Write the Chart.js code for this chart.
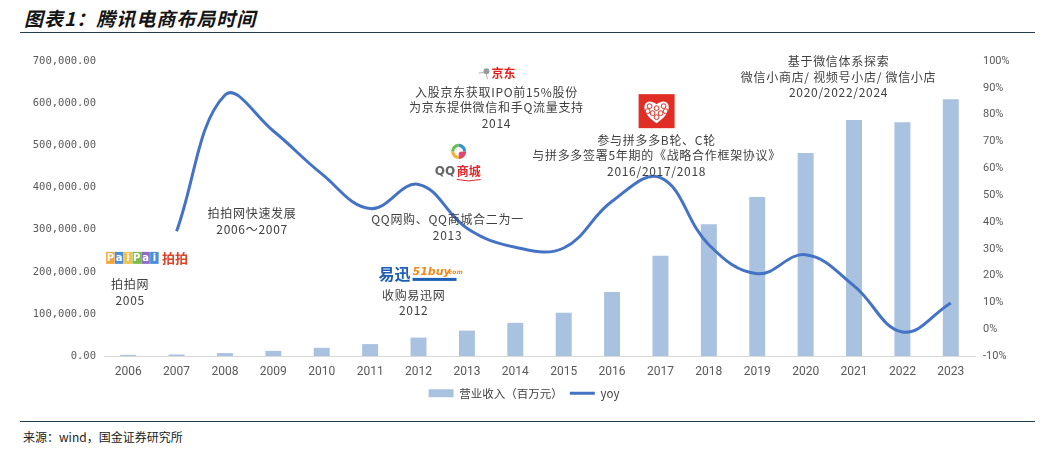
<!DOCTYPE html>
<html>
<head>
<meta charset="utf-8">
<script src="https://cdn.jsdelivr.net/npm/chart.js@4"></script>
<style>
  html, body { margin:0; padding:0; background:#fff; }
  body { width:1048px; height:460px; position:relative; overflow:hidden; font-family:"Noto Sans CJK SC", sans-serif; }
  #title { position:absolute; left:24px; top:4px; font-size:19px; font-weight:bold; font-style:italic; color:#151515; letter-spacing:1px; }
  #tline { position:absolute; left:20px; width:1015px; top:32px; height:0; border-top:1.5px solid #243f4d; }
  #fline { position:absolute; left:20px; width:1015px; top:421px; height:0; border-top:1.5px solid #243f4d; }
  #source { position:absolute; left:23px; top:428px; font-size:12px; color:#222; }
  #wrap { position:absolute; left:0; top:0; width:1048px; height:409px; }
</style>
</head>
<body>
<div id="title">图表1：腾讯电商布局时间</div>
<div id="tline"></div>
<div id="wrap"><canvas id="c"></canvas></div>
<div id="fline"></div>
<div id="source">来源：wind，国金证券研究所</div>
<script>
// ---- data ----
const years = ['2006','2007','2008','2009','2010','2011','2012','2013','2014','2015','2016','2017','2018','2019','2020','2021','2022','2023'];
const revenue = [2800, 3821, 7155, 12440, 19646, 28496, 43894, 60437, 78932, 102863, 151938, 237760, 312694, 377289, 482064, 560118, 554552, 609015];
const yoy = [null, 36.5, 87.3, 73.9, 57.9, 45.0, 54.0, 37.7, 30.6, 30.3, 47.7, 56.5, 31.5, 20.7, 27.8, 16.2, -1.0, 9.8];
const seriesNames = ['营业收入（百万元）', 'yoy'];
const leftTicks = { min: 0, max: 700000, step: 100000 };
const rightTicks = { min: -10, max: 100, step: 10 };

// annotation texts (anchored at category index / left-axis value)
const notes = [
  { at: [0.04, 169000], lines: ['拍拍网', '2005'] },
  { at: [2.56, 338000], lines: ['拍拍网快速发展', '2006～2007'] },
  { at: [6.6, 324000], lines: ['QQ网购、QQ商城合二为一', '2013'] },
  { at: [5.9, 145000], lines: ['收购易迅网', '2012'] },
  { at: [7.61, 626000], lines: ['入股京东获取IPO前15%股份', '为京东提供微信和手Q流量支持', '2014'] },
  { at: [10.92, 512000], lines: ['参与拼多多B轮、C轮', '与拼多多签署5年期的《战略合作框架协议》', '2016/2017/2018'] },
  { at: [14.68, 698000], lines: ['基于微信体系探索', '微信小商店/ 视频号小店/ 微信小店', '2020/2022/2024'] }
];
const logos = [
  { kind: 'paipai', at: [0.04, 233000] },
  { kind: 'qqmall', at: [6.83, 438000] },
  { kind: 'yixun', at: [6.0, 195000] },
  { kind: 'jd', at: [7.61, 671000] },
  { kind: 'pdd', at: [10.92, 581000] }
];

const barColor = '#A8C2E0';
const lineColor = '#4472C4';
const tickColor = '#595959';

function drawLogo(ctx, kind, x, y) {
  ctx.save();
  ctx.textBaseline = 'middle';
  if (kind === 'paipai') {
    const letters = ['P','a','i','P','a','i'];
    const cols = ['#F2A33A','#4A90D9','#F2C14E','#7DBE4A','#8E6CC2','#4A90D9'];
    let sx = x - 24;
    ctx.font = 'bold 10px "DejaVu Sans"';
    ctx.textAlign = 'center';
    letters.forEach((l, i) => {
      ctx.fillStyle = cols[i];
      ctx.fillRect(sx, y - 6, 8.5, 12);
      ctx.fillStyle = '#fff';
      ctx.fillText(l, sx + 4.25, y + 0.5);
      sx += 8.8;
    });
    ctx.fillStyle = '#D9452B';
    ctx.font = 'bold 13px "Noto Sans CJK SC"';
    ctx.textAlign = 'left';
    ctx.fillText('拍拍', sx + 3, y);
  } else if (kind === 'qqmall') {
    const cy = y - 20;
    const ringCols = ['#E84C3D','#F5B335','#6BBF4E','#3B8FD9'];
    for (let i = 0; i < 4; i++) {
      ctx.beginPath();
      ctx.strokeStyle = ringCols[i];
      ctx.lineWidth = 3.2;
      ctx.arc(x, cy, 6, i * Math.PI / 2, (i + 1) * Math.PI / 2);
      ctx.stroke();
    }
    ctx.fillStyle = '#E3447A';
    ctx.beginPath(); ctx.arc(x + 3, cy + 3, 3, 0, Math.PI * 2); ctx.fill();
    ctx.textAlign = 'left';
    ctx.font = 'bold 12px "DejaVu Sans"';
    ctx.fillStyle = '#666';
    ctx.fillText('QQ', x - 24, y);
    ctx.font = 'bold 12px "Noto Sans CJK SC"';
    ctx.fillStyle = '#E2262A';
    ctx.fillText('商城', x - 2, y);
    ctx.strokeStyle = '#E2262A'; ctx.lineWidth = 1;
    ctx.beginPath(); ctx.moveTo(x - 2, y + 8); ctx.quadraticCurveTo(x + 10, y + 11, x + 22, y + 8); ctx.stroke();
  } else if (kind === 'yixun') {
    ctx.textAlign = 'left';
    ctx.font = 'bold 16px "Noto Sans CJK SC"';
    ctx.fillStyle = '#1F5FB3';
    ctx.fillText('易迅', x - 40, y);
    ctx.font = 'italic bold 11px "DejaVu Sans"';
    ctx.fillStyle = '#F08A1C';
    ctx.fillText('51buy', x - 6, y - 2);
    ctx.font = 'italic bold 6px "DejaVu Sans"';
    ctx.fillText('.com', x + 28, y - 1);
    ctx.fillStyle = '#1F5FB3';
    ctx.fillRect(x - 6, y + 4, 44, 3);
  } else if (kind === 'jd') {
    ctx.fillStyle = '#9a9a9a';
    ctx.beginPath(); ctx.arc(x - 10, y - 2, 3, 0, Math.PI * 2); ctx.fill();
    ctx.strokeStyle = '#b0b0b0'; ctx.lineWidth = 1;
    ctx.beginPath(); ctx.moveTo(x - 18, y); ctx.lineTo(x - 12, y - 1); ctx.moveTo(x - 10, y + 1); ctx.lineTo(x - 9, y + 6); ctx.stroke();
    ctx.fillStyle = '#E2231A';
    ctx.textAlign = 'left';
    ctx.font = 'bold 12px "Noto Sans CJK SC"';
    ctx.fillText('京东', x - 5, y);
  } else if (kind === 'pdd') {
    ctx.fillStyle = '#E02E24';
    ctx.fillRect(x - 18, y - 17, 36, 34);
    ctx.fillStyle = '#fff';
    ctx.beginPath();
    ctx.moveTo(x, y + 12);
    ctx.bezierCurveTo(x - 20, y - 1, x - 12, y - 16, x, y - 7);
    ctx.bezierCurveTo(x + 12, y - 16, x + 20, y - 1, x, y + 12);
    ctx.fill();
    ctx.strokeStyle = '#E02E24'; ctx.lineWidth = 1;
    const dots = [[-7,-5],[7,-5],[-4,2],[4,2],[0,-3],[0,6],[-9,0],[9,0]];
    dots.forEach(d => { ctx.beginPath(); ctx.arc(x + d[0], y + d[1], 2.4, 0, Math.PI * 2); ctx.stroke(); });
  }
  ctx.restore();
}

const notesPlugin = {
  id: 'notes',
  afterDraw(chart) {
    const ctx = chart.ctx;
    const xs = chart.scales.x, ys = chart.scales.y;
    ctx.save();
    ctx.fillStyle = '#404040';
    ctx.font = '12px "Noto Sans CJK SC"';
    try { ctx.letterSpacing = '0.7px'; } catch (e) {}
    ctx.textAlign = 'center';
    ctx.textBaseline = 'middle';
    notes.forEach(n => {
      const px = xs.getPixelForValue(n.at[0]);
      const py = ys.getPixelForValue(n.at[1]);
      n.lines.forEach((t, i) => ctx.fillText(t, px, py + i * 15.5));
    });
    ctx.restore();
    logos.forEach(l => drawLogo(ctx, l.kind, xs.getPixelForValue(l.at[0]), ys.getPixelForValue(l.at[1])));
  }
};

new Chart(document.getElementById('c'), {
  data: {
    labels: years,
    datasets: [
      { type: 'bar', label: seriesNames[0], data: revenue, backgroundColor: barColor, yAxisID: 'y', order: 2,
        categoryPercentage: 1, barPercentage: 0.33 },
      { type: 'line', label: seriesNames[1], data: yoy, borderColor: lineColor, backgroundColor: lineColor, borderWidth: 3,
        pointRadius: 0, tension: 0.4, yAxisID: 'y1', order: 1, spanGaps: false }
    ]
  },
  options: {
    responsive: true,
    maintainAspectRatio: false,
    animation: false,
    devicePixelRatio: 1,
    layout: { padding: { top: 61, bottom: 0, left: 0, right: 0 } },
    plugins: {
      tooltip: { enabled: false },
      legend: {
        position: 'bottom',
        labels: {
          usePointStyle: true,
          pointStyleWidth: 25,
          boxHeight: 8,
          padding: 7,
          color: '#404040',
          font: { family: '"Noto Sans CJK SC"', size: 11.5 },
          generateLabels(chart) {
            const items = Chart.defaults.plugins.legend.labels.generateLabels(chart);
            items.sort((a, b) => a.datasetIndex - b.datasetIndex);
            items.forEach(it => {
              if (it.datasetIndex === 1) { it.pointStyle = 'line'; it.lineWidth = 3; it.strokeStyle = lineColor; }
              else { it.pointStyle = 'rect'; it.lineWidth = 0; it.fillStyle = barColor; }
            });
            return items;
          }
        }
      }
    },
    scales: {
      x: {
        type: 'category',
        grid: { display: false },
        border: { display: true, color: '#d9d9d9', width: 1 },
        ticks: { color: tickColor, padding: 1, maxRotation: 0, autoSkip: false,
          font: { family: '"Liberation Sans Narrow", Roboto, sans-serif', size: 12 } }
      },
      y: {
        position: 'left',
        min: leftTicks.min, max: leftTicks.max,
        grid: { display: false, drawTicks: false },
        border: { display: false },
        afterFit(s) { s.width = 104; },
        ticks: { stepSize: leftTicks.step, color: tickColor, padding: 8,
          font: { family: '"DejaVu Sans Mono", monospace', size: 10.5 },
          callback: v => v.toLocaleString('en-US', { minimumFractionDigits: 2, maximumFractionDigits: 2 }) }
      },
      y1: {
        position: 'right',
        min: rightTicks.min, max: rightTicks.max,
        grid: { display: false, drawTicks: false },
        border: { display: false },
        afterFit(s) { s.width = 73; },
        ticks: { stepSize: rightTicks.step, color: tickColor, padding: 8,
          font: { family: 'Roboto, sans-serif', size: 11 },
          callback: v => v + '%' }
      }
    }
  },
  plugins: [notesPlugin]
});
</script>
</body>
</html>
